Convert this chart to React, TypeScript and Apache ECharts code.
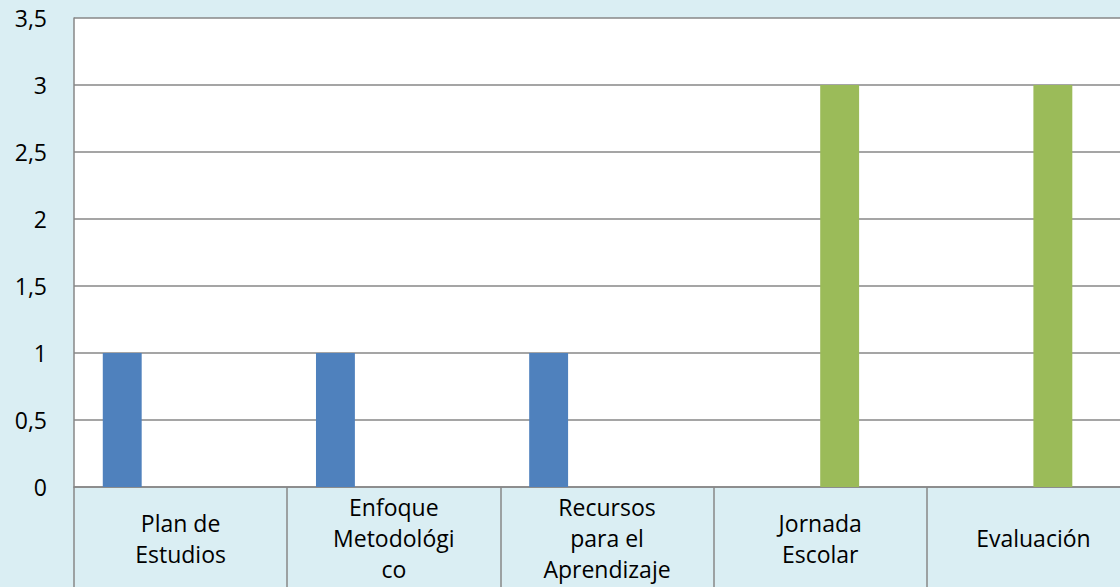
import React, { useEffect, useRef } from "react";
import * as echarts from "echarts";

const categories = [
  "Plan de Estudios",
  "Enfoque Metodológico",
  "Recursos para el Aprendizaje",
  "Jornada Escolar",
  "Evaluación",
];
const tickLabels = [
  "Plan de\nEstudios",
  "Enfoque\nMetodológi\nco",
  "Recursos\npara el\nAprendizaje",
  "Jornada\nEscolar",
  "Evaluación",
];
const serie1 = [1, 1, 1, 0, 0];
const serie2 = [0, 0, 0, 0, 0];
const serie3 = [0, 0, 0, 3, 3];
const serie4 = [0, 0, 0, 0, 0];
const seriesNames = ["Serie 1", "Serie 2", "Serie 3", "Serie 4"];
const seriesColors = ["#4F81BD", "#C0504D", "#9BBB59", "#8064A2"];

export default function App() {
  const ref = useRef<HTMLDivElement>(null);
  useEffect(() => {
    if (!ref.current) return;
    const chart = echarts.init(ref.current, null, { renderer: "svg" });
    const font = "'Open Sans', sans-serif";
    const gray = "#878787";
    const data = [serie1, serie2, serie3, serie4];
    chart.setOption({
      animation: false,
      backgroundColor: "#DAEEF3",
      grid: {
        left: 74,
        top: 18,
        height: 469,
        width: 1066,
        outerBoundsMode: "none",
        containLabel: false,
        show: true,
        backgroundColor: "#ffffff",
        borderWidth: 0,
      },
      xAxis: {
        type: "category",
        data: categories,
        boundaryGap: true,
        axisLine: { show: true, lineStyle: { color: gray, width: 1.5 } },
        axisTick: {
          show: true,
          length: 100,
          interval: 0,
          lineStyle: { color: gray, width: 1.5 },
        },
        axisLabel: {
          interval: 0,
          margin: 51,
          verticalAlign: "middle",
          align: "center",
          color: "#000",
          fontFamily: font,
          fontSize: 23,
          lineHeight: 31,
          formatter: (_v: string, i: number) => tickLabels[i],
        },
        splitLine: { show: false },
      },
      yAxis: {
        type: "value",
        min: 0,
        max: 3.5,
        interval: 0.5,
        axisLine: { show: true, lineStyle: { color: gray, width: 1.5 } },
        axisTick: { show: false },
        axisLabel: {
          margin: 27,
          color: "#000",
          fontFamily: font,
          fontSize: 23,
          formatter: (v: number) => String(v).replace(".", ","),
        },
        splitLine: { show: true, lineStyle: { color: gray, width: 1.5 } },
      },
      series: data.map((d, i) => ({
        type: "bar",
        name: seriesNames[i],
        data: d,
        barGap: "0%",
        barCategoryGap: "27%",
        itemStyle: { color: seriesColors[i] },
      })),
    });
    return () => chart.dispose();
  }, []);
  return (
    <div
      ref={ref}
      style={{ position: "fixed", left: 0, top: 0, width: 1120, height: 587 }}
    />
  );
}
